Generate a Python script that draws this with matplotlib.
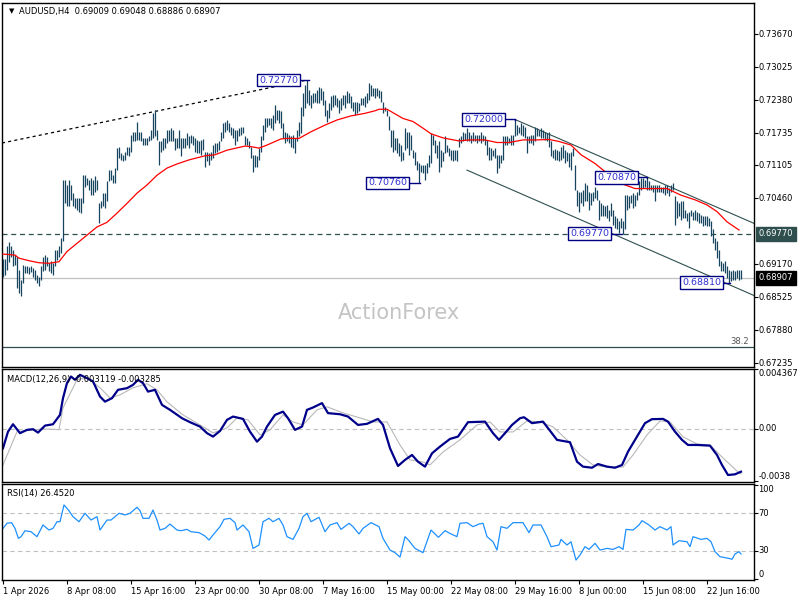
import matplotlib
matplotlib.use('Agg')
import matplotlib.pyplot as plt
import matplotlib.transforms as mtransforms
import numpy as np

# H4 bars, price in pips (x 1e-4)
highs = [
    6928, 6928, 6952, 6960, 6952, 6945, 6935, 6932, 6906, 6887,
    6916, 6913, 6913, 6911, 6913, 6909, 6906, 6897, 6893, 6913,
    6932, 6935, 6932, 6919, 6923, 6919, 6945, 6945, 6952, 6968,
    7082, 7082, 7072, 7082, 7072, 7056, 7046, 7046, 7046, 7046,
    7092, 7092, 7085, 7082, 7085, 7082, 7089, 7082, 7037, 7040,
    7056, 7056, 7079, 7102, 7102, 7092, 7105, 7144, 7147, 7134,
    7131, 7137, 7147, 7147, 7170, 7176, 7176, 7196, 7176, 7176,
    7164, 7164, 7164, 7167, 7180, 7212, 7219, 7180, 7157, 7157,
    7164, 7164, 7180, 7180, 7183, 7180, 7164, 7164, 7180, 7164,
    7164, 7164, 7173, 7167, 7170, 7167, 7164, 7160, 7157, 7160,
    7162, 7137, 7137, 7134, 7137, 7150, 7154, 7155, 7157, 7176,
    7193, 7196, 7199, 7193, 7186, 7183, 7180, 7180, 7183, 7186,
    7186, 7167, 7164, 7157, 7147, 7131, 7131, 7128, 7144, 7167,
    7190, 7203, 7203, 7203, 7203, 7209, 7229, 7219, 7219, 7216,
    7193, 7176, 7173, 7170, 7167, 7170, 7164, 7180, 7196, 7225,
    7251, 7268, 7277, 7258, 7248, 7251, 7251, 7258, 7264, 7261,
    7255, 7238, 7219, 7232, 7245, 7248, 7248, 7242, 7238, 7242,
    7248, 7248, 7255, 7251, 7245, 7235, 7235, 7235, 7232, 7242,
    7242, 7245, 7251, 7271, 7268, 7262, 7261, 7261, 7258, 7255,
    7235, 7225, 7219, 7206, 7180, 7180, 7164, 7164, 7154, 7150,
    7137, 7183, 7176, 7176, 7170, 7141, 7137, 7118, 7115, 7111,
    7111, 7111, 7115, 7131, 7173, 7170, 7160, 7150, 7157, 7141,
    7137, 7167, 7150, 7144, 7141, 7141, 7141, 7141, 7164, 7167,
    7176, 7173, 7183, 7176, 7170, 7176, 7170, 7170, 7170, 7176,
    7170, 7167, 7160, 7147, 7144, 7141, 7144, 7131, 7131, 7131,
    7167, 7167, 7167, 7164, 7170, 7170, 7200, 7190, 7186, 7193,
    7190, 7186, 7167, 7167, 7170, 7170, 7186, 7183, 7180, 7183,
    7180, 7176, 7173, 7176, 7157, 7140, 7142, 7140, 7138, 7147,
    7150, 7141, 7137, 7134, 7137, 7144, 7111, 7063, 7059, 7059,
    7063, 7076, 7072, 7059, 7056, 7059, 7069, 7063, 7043, 7037,
    7033, 7030, 7033, 7024, 7037, 7024, 7011, 7007, 7001, 7007,
    7001, 7053, 7053, 7050, 7053, 7056, 7053, 7059, 7079, 7085,
    7085, 7082, 7087, 7079, 7072, 7072, 7072, 7072, 7072, 7069,
    7069, 7072, 7072, 7066, 7072, 7076, 7050, 7040, 7037, 7040,
    7040, 7024, 7017, 7020, 7024, 7020, 7024, 7020, 7017, 7014,
    7011, 7011, 7011, 7007, 7001, 6985, 6968, 6962, 6945, 6923,
    6919, 6923, 6913, 6906, 6903, 6906, 6903, 6906, 6906, 6905,
]
lows = [
    6892, 6897, 6906, 6921, 6932, 6913, 6916, 6870, 6861, 6855,
    6880, 6900, 6900, 6898, 6901, 6893, 6887, 6880, 6874, 6887,
    6903, 6906, 6913, 6903, 6900, 6897, 6913, 6926, 6932, 6939,
    6962, 7037, 7030, 7030, 7043, 7030, 7027, 7024, 7020, 7017,
    7037, 7069, 7072, 7063, 7053, 7053, 7059, 7063, 6997, 7027,
    7030, 7027, 7040, 7079, 7082, 7076, 7076, 7102, 7124, 7121,
    7118, 7121, 7131, 7128, 7137, 7157, 7157, 7160, 7160, 7157,
    7150, 7150, 7150, 7157, 7160, 7164, 7167, 7160, 7111, 7137,
    7141, 7144, 7154, 7157, 7157, 7157, 7141, 7144, 7144, 7128,
    7144, 7144, 7150, 7144, 7154, 7150, 7137, 7134, 7134, 7131,
    7141, 7108, 7118, 7111, 7121, 7124, 7134, 7137, 7141, 7157,
    7164, 7176, 7180, 7176, 7170, 7164, 7150, 7157, 7167, 7170,
    7173, 7150, 7150, 7144, 7124, 7098, 7108, 7108, 7121, 7137,
    7160, 7176, 7186, 7190, 7183, 7180, 7193, 7199, 7193, 7183,
    7164, 7154, 7157, 7154, 7147, 7144, 7134, 7157, 7167, 7173,
    7206, 7222, 7232, 7229, 7222, 7232, 7235, 7232, 7232, 7238,
    7229, 7206, 7196, 7203, 7219, 7225, 7229, 7225, 7212, 7219,
    7229, 7222, 7232, 7232, 7222, 7216, 7209, 7212, 7216, 7229,
    7229, 7225, 7232, 7238, 7246, 7246, 7242, 7245, 7242, 7235,
    7212, 7216, 7206, 7180, 7147, 7137, 7141, 7134, 7128, 7118,
    7121, 7141, 7144, 7131, 7141, 7124, 7111, 7102, 7076, 7098,
    7095, 7082, 7095, 7108, 7115, 7150, 7134, 7124, 7098, 7108,
    7118, 7134, 7137, 7128, 7121, 7118, 7121, 7118, 7147, 7154,
    7157, 7160, 7157, 7157, 7154, 7157, 7157, 7154, 7157, 7154,
    7157, 7150, 7131, 7121, 7121, 7128, 7124, 7095, 7105, 7115,
    7121, 7150, 7150, 7154, 7150, 7150, 7167, 7170, 7173, 7170,
    7167, 7164, 7134, 7154, 7154, 7150, 7157, 7167, 7167, 7164,
    7164, 7160, 7157, 7147, 7128, 7124, 7121, 7121, 7118, 7121,
    7124, 7115, 7118, 7108, 7102, 7128, 7063, 7030, 7020, 7037,
    7030, 7040, 7040, 7024, 7033, 7040, 7046, 7043, 7004, 7011,
    7011, 7011, 7007, 7001, 7011, 6994, 6988, 6985, 6978, 6988,
    6977, 6985, 7024, 7027, 7037, 7027, 7030, 7043, 7053, 7063,
    7066, 7069, 7063, 7063, 7063, 7059, 7040, 7059, 7059, 7059,
    7056, 7053, 7056, 7050, 7059, 7063, 6994, 7007, 7011, 7004,
    7007, 7007, 7001, 6988, 7011, 7004, 7004, 7001, 6998, 6998,
    6991, 6994, 6991, 6991, 6972, 6958, 6945, 6929, 6913, 6903,
    6903, 6900, 6890, 6881, 6884, 6887, 6887, 6890, 6887, 6889,
]

# moving average (red), sampled along the bars
ma_x = [0, 6, 8, 13, 18, 23, 28, 32, 37, 42, 47, 52, 57, 62, 67, 72, 77, 82, 87, 93,
        101, 106, 112, 121, 124, 128, 132, 139, 142, 148, 154, 161, 167, 174, 181, 186,
        188, 192, 200, 205, 210, 214, 220, 228, 233, 241, 247, 253, 260, 267, 273, 278,
        284, 289, 296, 302, 309, 316, 322, 332, 339, 346, 352, 357, 362, 368]
ma_v = [6937, 6935, 6929, 6924, 6920, 6919, 6922, 6942, 6958, 6974, 6990, 6999, 7017, 7036,
        7056, 7072, 7091, 7105, 7113, 7121, 7129, 7131, 7140, 7148, 7147, 7144, 7150, 7162,
        7163, 7163, 7176, 7189, 7199, 7207, 7212, 7217, 7220, 7220, 7202, 7196, 7183, 7172,
        7164, 7158, 7160, 7160, 7155, 7155, 7160, 7160, 7161, 7157, 7150, 7131, 7114, 7095,
        7075, 7065, 7065, 7065, 7052, 7043, 7033, 7020, 7000, 6984]

# MACD main / signal (x 1e-4)
macd_x = [0, 2.5, 5, 8.5, 12, 15, 17.5, 21, 25, 28.5, 30, 32, 34, 36, 38.5, 42, 45, 48.5, 51,
          54.5, 57.5, 62, 65, 67.5, 70, 72.5, 76, 79.5, 83.5, 89.5, 93.5, 98.5, 102, 105,
          108.5, 112, 115, 120, 123.5, 127, 129.5, 132, 136, 140, 142.5, 146, 149.5, 152,
          155, 159.5, 162.5, 168.5, 172.5, 177.5, 182, 187.5, 190, 193.5, 197.5, 201, 204.5,
          207.5, 211, 214.5, 218.5, 223.5, 227.5, 232.5, 241, 245, 248, 251, 254.5, 258.5,
          260.5, 264.5, 270, 277, 283.5, 287, 290, 294.5, 297.5, 302, 306, 309.5, 312.5, 317,
          321, 324.5, 330, 332.5, 336, 339.5, 342.5, 347, 353.5, 357, 359.5, 362.5, 366, 369]
macd_v = [-14.1, -2.0, 3.4, -3.1, -0.7, -0.2, -2.7, 2.4, 3.4, 10.2, 22.4, 33.4, 38.2, 35.8,
          39.4, 37.0, 34.6, 23.6, 19.9, 22.4, 28.5, 29.7, 32.1, 35.8, 33.4, 27.2, 28.5, 17.5,
          13.9, 7.8, 4.9, 1.7, -3.1, -5.6, -1.5, 6.6, 9.0, 7.3, -2.0, -9.3, -5.6, 1.7, 10.2,
          12.6, 7.8, -0.7, 1.7, 13.9, 15.6, 18.8, 11.5, 10.7, 9.0, 2.9, 3.7, 7.3, 2.9, -14.1,
          -27.0, -22.6, -19.0, -23.9, -27.5, -17.8, -12.9, -7.3, -5.6, 4.9, 5.3, -3.1, -8.0,
          -3.1, 2.9, 7.8, 8.5, 4.2, 5.3, -8.0, -9.7, -23.9, -27.5, -28.3, -25.6, -27.5, -28.3,
          -26.3, -16.6, -5.6, 4.2, 7.1, 7.3, 5.3, -2.0, -8.0, -11.7, -11.7, -12.2, -19.0,
          -26.3, -33.6, -33.1, -31.19]
sig_x = [0, 7, 20, 28, 30, 37, 42, 48.5, 53.5, 58.5, 65, 72, 77, 82, 90, 98.5, 105, 112, 117,
         122.5, 128.5, 133.5, 140, 145, 150, 157, 162, 170, 178.5, 185, 192, 198.5, 203.5,
         210, 213.5, 220, 228.5, 237, 243.5, 248.5, 255, 262, 268.5, 275, 282, 288.5, 295,
         302, 310, 315, 322, 328.5, 333.5, 340, 347, 353.5, 360, 367, 369]
sig_v = [-26.3, -2.0, 0.0, -0.5, 15.3, 35.8, 37.3, 30.0, 22.6, 24.8, 30.0, 32.9, 28.5, 19.7,
         10.2, 2.9, -2.9, 0.7, 8.0, 6.6, -4.4, -0.7, 10.2, 5.1, 2.9, 13.9, 16.1, 11.7, 8.0,
         5.1, 5.1, -11.7, -22.6, -24.1, -26.3, -16.8, -8.0, 2.9, 5.1, -2.2, -2.2, 5.8, 5.1,
         1.5, -8.0, -19.0, -26.3, -27.8, -27.8, -19.0, -4.4, 5.8, 5.1, -5.8, -11.0, -11.7,
         -21.2, -30.7, -32.85]

# RSI(14)
rsi_x = [0, 2, 4.3, 6, 7.7, 9, 11, 14, 17, 20, 23, 25, 27, 28.5, 30.5, 32.7, 35, 38, 41, 44,
         47, 48.5, 52, 54, 58, 61, 63.5, 67, 68.5, 70, 73, 75, 77, 78.5, 81, 83.5, 87, 89, 92,
         94, 98, 101, 103, 105, 108.5, 110.5, 113.5, 116, 117, 120, 123, 125, 128, 130, 133,
         135, 138, 140, 142, 145, 148, 150, 152, 154, 158, 161, 163.5, 167, 169, 173, 175,
         178, 180, 184, 188, 190, 193.5, 196, 198.5, 201, 202.7, 206, 210, 214, 217.7, 221,
         224, 227, 228.5, 232, 235, 238, 240, 242, 245, 247, 249, 252, 255, 260, 263, 265,
         269, 272, 274, 278, 279, 282, 284, 286.5, 288.5, 291, 293, 296, 298.5, 302, 305,
         308, 310, 311.5, 315, 318, 319.5, 323, 326, 328.5, 332, 334, 335, 338, 342, 343.5,
         345, 349, 352, 354, 356, 358.5, 363, 364.5, 366, 368, 369]
rsi_v = [53.9, 59.3, 60, 53.9, 43.2, 45, 51.4, 50.3, 45, 57.5, 52.1, 53.9, 61, 61, 78.9, 73.5,
         66.4, 61, 70, 62.8, 66.4, 52.1, 62.8, 62.8, 70, 68.2, 70, 76.4, 72.8, 64.6, 64.6,
         73.5, 62.8, 52.1, 53.9, 58.5, 52.1, 51.4, 52.8, 50.3, 49.3, 45.7, 41.4, 46.8, 55.7,
         63.5, 64.6, 60, 52.1, 57.5, 50.3, 32.5, 36.1, 61, 64.6, 61, 64.6, 57.5, 45, 42.1,
         53.9, 66.4, 70, 61, 65.7, 50.3, 57.5, 60, 52.8, 59.3, 55.7, 47.9, 53.9, 60, 55.7,
         43.2, 30.7, 27.9, 23.2, 45, 41.4, 32.5, 27.9, 52.1, 44.3, 51.4, 47.9, 45, 59.3, 60,
         55.7, 58.5, 59.3, 45, 39.6, 30.7, 55.7, 53.9, 60, 60, 49.3, 57.5, 57.5, 45, 34.3,
         36.1, 42.1, 36.1, 39.6, 20, 25.4, 34.3, 31.4, 37.9, 30.7, 32.5, 31.4, 34.3, 31.4,
         52.8, 52.1, 57.5, 62.1, 57.5, 52.1, 55.7, 52.1, 55.7, 36.1, 40.7, 39.6, 34.3, 45,
         42.1, 43.2, 39.6, 29, 23.6, 21.8, 20.8, 26.5, 29, 26.5]

price_ticks = [0.73670, 0.73025, 0.72380, 0.71735, 0.71105, 0.70460, 0.69170, 0.68525,
               0.67880, 0.67235]
date_idx = [0, 32, 64, 96, 128, 160, 192, 224, 256, 288, 320, 352]
date_labels = ['1 Apr 2026', '8 Apr 08:00', '15 Apr 16:00', '23 Apr 00:00', '30 Apr 08:00',
               '7 May 16:00', '15 May 00:00', '22 May 08:00', '29 May 16:00', '8 Jun 00:00',
               '15 Jun 08:00', '22 Jun 16:00']

# swing labels: text, price, right edge of box (bar idx), bar idx
swings = [('0.72770', 0.7277, 148.5, 153), ('0.72000', 0.7200, 251, 256),
          ('0.70760', 0.7076, 203, 208.5), ('0.70870', 0.7087, 317.5, 322),
          ('0.69770', 0.6977, 304, 309.5), ('0.68810', 0.6881, 360, 363.5)]

last_price = 0.68907
support = 0.6977
fib_382 = 0.6755

plt.rcParams['font.family'] = ['DejaVu Sans']
fig = plt.figure(figsize=(8, 6), dpi=100)
L, W = 2 / 800, 752 / 800
ax = fig.add_axes([L, 1 - 367 / 600, W, 364 / 600])
ax2 = fig.add_axes([L, 1 - 482 / 600, W, 113 / 600])
ax3 = fig.add_axes([L, 1 - 580 / 600, W, 96 / 600])

idx = np.arange(len(highs))
hi = np.array(highs) / 1e4
lo = np.array(lows) / 1e4
bar_col = '#17445f'
slate = '#2f4f4f'
navy = '#000080'

for a in (ax, ax2, ax3):
    a.set_xlim(-0.5, 375.5)
    for s in a.spines.values():
        s.set_color('black')
        s.set_linewidth(1)
    a.tick_params(axis='y', left=False, right=True, labelleft=False, labelright=False,
                  direction='out', length=3, width=0.8)
    a.tick_params(axis='x', bottom=False, labelbottom=False)

# ---- price panel
ax.set_ylim(0.67163, 0.74276)
ax.vlines(idx, lo, hi, color=bar_col, lw=0.9, zorder=3)
ax.plot(ma_x, np.array(ma_v) / 1e4, color='red', lw=0.9, zorder=4)

ax.axhline(support, color=slate, lw=0.9, ls=(0, (4, 3)), zorder=2)
ax.axhline(last_price, color='#c0c0c0', lw=0.9, zorder=1)
ax.axhline(fib_382, color=slate, lw=0.9, zorder=2)
ax.text(373, fib_382 + 0.0003, '38.2', ha='right', va='bottom', fontsize=6, color='#555555')

# trend lines
ax.plot([-0.5, 152], [0.7154, 0.7277], color='black', lw=0.9, ls=(0, (2.5, 2.5)), zorder=2)
ax.plot([256, 375.5], [0.7200, 0.6997], color=slate, lw=0.8, zorder=2)
ax.plot([232, 375.5], [0.7101, 0.6856], color=slate, lw=0.8, zorder=2)

for txt, p, xr, xb in swings:
    ax.plot([xr, xb, xb], [p, p, p - 0.00006], color=navy, lw=1, zorder=5)
    ax.text(xr - 1, p, txt, ha='right', va='center', fontsize=6.8, color='#3030d0', zorder=6,
            bbox=dict(boxstyle='square,pad=0.2', fc='white', ec=navy, lw=1))

ax.set_yticks(price_ticks)
tr = mtransforms.blended_transform_factory(ax.transAxes, ax.transData)
for p in price_ticks:
    ax.text(1.006, p, f'{p:.5f}', transform=tr, ha='left', va='center', fontsize=6,
            clip_on=False)
ax.text(1.006, support, f'{support:.5f}', transform=tr, ha='left', va='center', fontsize=6,
        color='white', bbox=dict(boxstyle='square,pad=0.3', fc=slate, ec=slate))
ax.text(1.006, last_price, f'{last_price:.5f}', transform=tr, ha='left', va='center',
        fontsize=6, color='white', bbox=dict(boxstyle='square,pad=0.3', fc='black', ec='black'))

ax.text(0.009, 0.985, '\u25bc', transform=ax.transAxes, ha='left', va='top', fontsize=5)
ax.text(0.023, 0.988, 'AUDUSD,H4  0.69009 0.69048 0.68886 0.68907', transform=ax.transAxes,
        ha='left', va='top', fontsize=6)
ax.text(0.528, 0.148, 'ActionForex', transform=ax.transAxes, ha='center', va='center',
        fontsize=15, color='#c4c4c4', zorder=0)

# ---- MACD panel
ax2.set_ylim(-0.00387, 0.004367)
ax2.axhline(0, color='#c0c0c0', lw=0.8, ls=(0, (4, 3)))
ax2.plot(sig_x, np.array(sig_v) / 1e4, color='#b8b8b8', lw=0.8)
ax2.plot(macd_x, np.array(macd_v) / 1e4, color='#00008b', lw=1.6)
ax2.set_yticks([0.004367, 0, -0.0038])
tr2 = mtransforms.blended_transform_factory(ax2.transAxes, ax2.transData)
ax2.text(1.006, 0.004367, '0.004367', transform=tr2, ha='left', va='top', fontsize=6)
ax2.text(1.006, 0, '0.00', transform=tr2, ha='left', va='center', fontsize=6)
ax2.text(1.006, -0.0038, '-0.0038', transform=tr2, ha='left', va='bottom', fontsize=6)
ax2.text(0.007, 0.95, 'MACD(12,26,9) -0.003119 -0.003285', transform=ax2.transAxes,
         ha='left', va='top', fontsize=6)

# ---- RSI panel
ax3.set_ylim(-1.3, 101.3)
ax3.axhline(70, color='#c0c0c0', lw=0.8, ls=(0, (4, 3)))
ax3.axhline(30, color='#c0c0c0', lw=0.8, ls=(0, (4, 3)))
ax3.plot(rsi_x, rsi_v, color='#1e90ff', lw=0.9)
ax3.set_yticks([100, 70, 30, 0])
tr3 = mtransforms.blended_transform_factory(ax3.transAxes, ax3.transData)
for v, va in [(100, 'top'), (70, 'center'), (30, 'center'), (0, 'bottom')]:
    ax3.text(1.006, v, str(v), transform=tr3, ha='left', va=va, fontsize=6)
ax3.text(0.007, 0.95, 'RSI(14) 26.4520', transform=ax3.transAxes, ha='left', va='top',
         fontsize=6)

ax3.tick_params(axis='x', bottom=True, labelbottom=True, direction='out', length=3,
                width=0.8, labelsize=6, pad=2)
ax3.set_xticks(date_idx)
ax3.set_xticklabels(date_labels)
for t in ax3.get_xticklabels():
    t.set_ha('left')

fig.savefig('out.png', dpi=100)
